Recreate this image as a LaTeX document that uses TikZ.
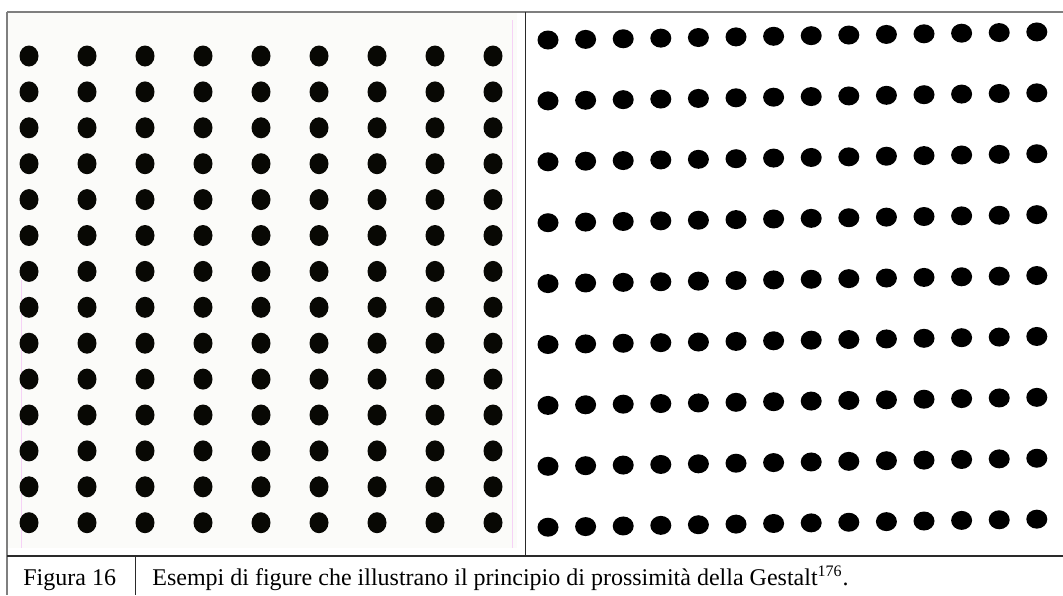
\documentclass[tikz,border=0pt]{standalone}
\usepackage{fontspec}
\setmainfont{Liberation Serif}
\usepackage{tikz}
\usetikzlibrary{positioning}
\definecolor{framegray}{HTML}{7F7F7F}
\definecolor{rulegray}{HTML}{2A2A2A}
\definecolor{scanwhite}{HTML}{FBFBF9}
\definecolor{scanpink}{HTML}{F6D2F6}
\definecolor{dotblack}{HTML}{080804}
\tikzset{
  outerrule/.style={draw=framegray, line width=1pt},
  cellrule/.style={draw=rulegray, line width=0.6pt},
  scanbox/.style={fill=scanwhite, draw=none},
  scanedge/.style={draw=scanpink, line width=0.4pt},
  coldot/.style={fill=dotblack, draw=none},
  rowdot/.style={fill=black, draw=none},
  captiontext/.style={font=\fontsize{12}{14}\selectfont, inner sep=0pt, anchor=base west},
}
\begin{document}
\begin{tikzpicture}[x=0.5pt, y=-0.5pt]
\useasboundingbox (0,0) rectangle (1063,595);

% scanned picture on the left (columns)
\fill[scanbox] (8,13) rectangle (517,548);
\draw[scanedge] (21,280) -- (21,548);
\draw[scanedge] (512,20) -- (512,548);
\foreach \i in {0,...,8}
  \foreach \j in {0,...,13}
    \fill[coldot] (29+58*\i, 56+35.9*\j) ellipse [x radius=9.5, y radius=10.5];

% picture on the right (rows)
\foreach \i in {0,...,13}
  \foreach \j in {0,...,8}
    \fill[rowdot] (548+37.6*\i, 40+60.9*\j-0.62*\i) ellipse [x radius=10.5, y radius=9.5];

% table rules
\coordinate (tl) at (7,12);
\coordinate (tr) at (1063,12);
\coordinate (bl) at (7,595);
\coordinate (ml) at (7,556);
\coordinate (mr) at (1063,556);
\coordinate (ctop) at (525.5,12);
\coordinate (cbot) at (525.5,556);
\coordinate (ktop) at (135.5,556);
\coordinate (kbot) at (135.5,595);
\draw[outerrule] (tl) -- (tr);
\draw[outerrule] (tl) -- (bl);
\draw[cellrule] (ctop) -- (cbot);
\draw[cellrule] (ml) -- (mr);
\draw[cellrule] (ktop) -- (kbot);

% caption row
\node[captiontext] (figlabel) at (23,585) {Figura 16};
\node[captiontext] (figcaption) at (152,585) {Esempi di figure che illustrano il principio di prossimità della Gestalt\textsuperscript{176}.};

\end{tikzpicture}
\end{document}
